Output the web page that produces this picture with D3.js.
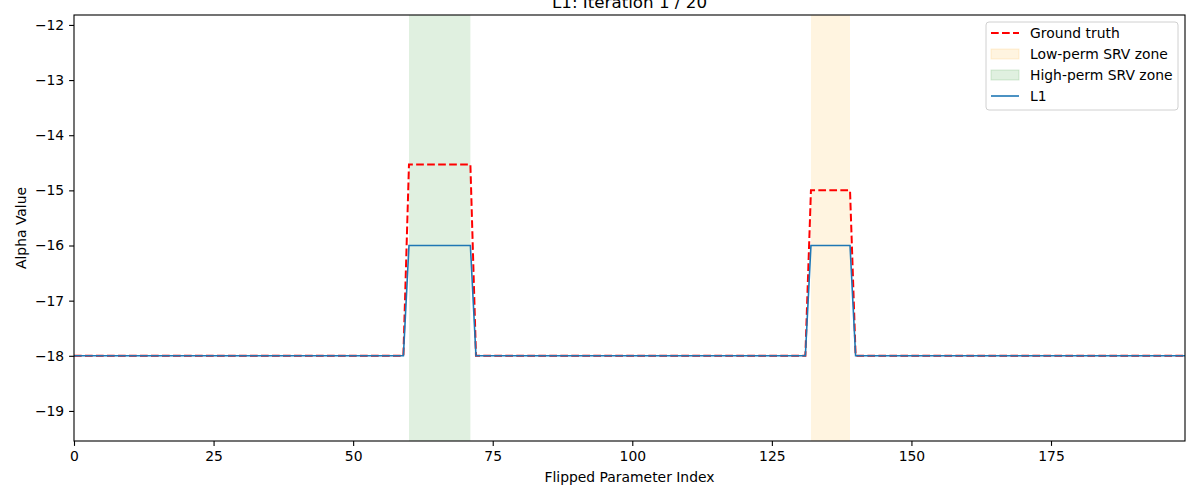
<!DOCTYPE html>
<html><head><meta charset="utf-8">
<script src="https://cdn.jsdelivr.net/npm/d3@7"></script>
<style>body{margin:0;background:#fff}svg{font-family:"DejaVu Sans",sans-serif}</style>
</head><body>
<svg id="c" width="1200" height="500"></svg>
<script>
// Data
const N = 200;
const baseline = -18;
const highZone = [60, 71];
const lowZone = [132, 139];
const gtHigh = -14.53;
const gtLow = -15.0;
const l1High = -16.0;
const l1Low = -16.0;
const xTicks = [0, 25, 50, 75, 100, 125, 150, 175];
const yTicks = [-12, -13, -14, -15, -16, -17, -18, -19];
const title = "L1: Iteration 1 / 20";

const idx = d3.range(N);
const groundTruth = idx.map(i => (i >= highZone[0] && i <= highZone[1]) ? gtHigh : (i >= lowZone[0] && i <= lowZone[1]) ? gtLow : baseline);
const l1 = idx.map(i => (i >= highZone[0] && i <= highZone[1]) ? l1High : (i >= lowZone[0] && i <= lowZone[1]) ? l1Low : baseline);

const FS = 13.9;
const m = {l: 74, r: 1185, t: 15, b: 441};
const svg = d3.select("#c");
const x = d3.scaleLinear().domain([0, 199]).range([m.l, m.r]);
const y = d3.scaleLinear().domain([-19.545, -11.82]).range([m.b, m.t]);

svg.append("defs").append("clipPath").attr("id","clip").append("rect")
  .attr("x", m.l).attr("y", m.t).attr("width", m.r - m.l).attr("height", m.b - m.t);
const g = svg.append("g").attr("clip-path","url(#clip)");

g.append("rect").attr("x", x(lowZone[0])).attr("width", x(lowZone[1]) - x(lowZone[0]))
  .attr("y", m.t).attr("height", m.b - m.t).attr("fill", "orange").attr("fill-opacity", 0.12);
g.append("rect").attr("x", x(highZone[0])).attr("width", x(highZone[1]) - x(highZone[0]))
  .attr("y", m.t).attr("height", m.b - m.t).attr("fill", "green").attr("fill-opacity", 0.12);

const line = d3.line().x((d,i) => x(i)).y(d => y(d));
g.append("path").datum(groundTruth).attr("d", line).attr("fill","none")
  .attr("stroke","red").attr("stroke-width",2).attr("stroke-dasharray","7.7,3.3");
g.append("path").datum(l1).attr("d", line).attr("fill","none")
  .attr("stroke","#1f77b4").attr("stroke-width",1.6);

// axes
const xa = svg.append("g").attr("transform",`translate(0,${m.b})`)
  .call(d3.axisBottom(x).tickValues(xTicks).tickSize(4.9).tickPadding(4.9).tickFormat(d3.format("d")));
const ya = svg.append("g").attr("transform",`translate(${m.l},0)`)
  .call(d3.axisLeft(y).tickValues(yTicks).tickSize(4.9).tickPadding(4.9).tickFormat(d => "\u2212" + Math.abs(d)));
[xa, ya].forEach(a => {
  a.selectAll("text").attr("font-size", FS).attr("fill","#000").attr("font-family","DejaVu Sans");
  a.selectAll("line").attr("stroke","#000").attr("stroke-width",1.1);
  a.select(".domain").remove();
});
svg.append("rect").attr("x", m.l).attr("y", m.t).attr("width", m.r - m.l).attr("height", m.b - m.t)
  .attr("fill","none").attr("stroke","#000").attr("stroke-width",1.1);

svg.append("text").attr("x", (m.l + m.r)/2).attr("y", 482).attr("text-anchor","middle")
  .attr("font-size",FS).text("Flipped Parameter Index");
svg.append("text").attr("transform",`translate(26,${(m.t+m.b)/2}) rotate(-90)`).attr("text-anchor","middle")
  .attr("font-size",FS).text("Alpha Value");
svg.append("text").attr("x", (m.l + m.r)/2).attr("y", 8).attr("text-anchor","middle")
  .attr("font-size",16.7).text(title);

// legend
const lg = svg.append("g");
lg.append("rect").attr("x", 986).attr("y", 22).attr("width", 192).attr("height", 88).attr("rx", 3)
  .attr("fill","#fff").attr("fill-opacity",0.8).attr("stroke","#d0d0d0").attr("stroke-width",1);
const items = [
  {label:"Ground truth", type:"dash"},
  {label:"Low-perm SRV zone", type:"patch", color:"orange"},
  {label:"High-perm SRV zone", type:"patch", color:"green"},
  {label:"L1", type:"line"}
];
items.forEach((it, i) => {
  const cy = 33 + i * 21;
  if (it.type === "dash") lg.append("line").attr("x1",991).attr("x2",1019).attr("y1",cy).attr("y2",cy)
    .attr("stroke","red").attr("stroke-width",2).attr("stroke-dasharray","7.7,3.3");
  else if (it.type === "line") lg.append("line").attr("x1",991).attr("x2",1019).attr("y1",cy).attr("y2",cy)
    .attr("stroke","#1f77b4").attr("stroke-width",1.6);
  else lg.append("rect").attr("x",991).attr("y",cy-5).attr("width",28).attr("height",10)
    .attr("fill",it.color).attr("fill-opacity",0.12).attr("stroke",it.color).attr("stroke-opacity",0.15);
  lg.append("text").attr("x",1030).attr("y",cy+5).attr("font-size",FS).text(it.label);
});
</script>
</body></html>
